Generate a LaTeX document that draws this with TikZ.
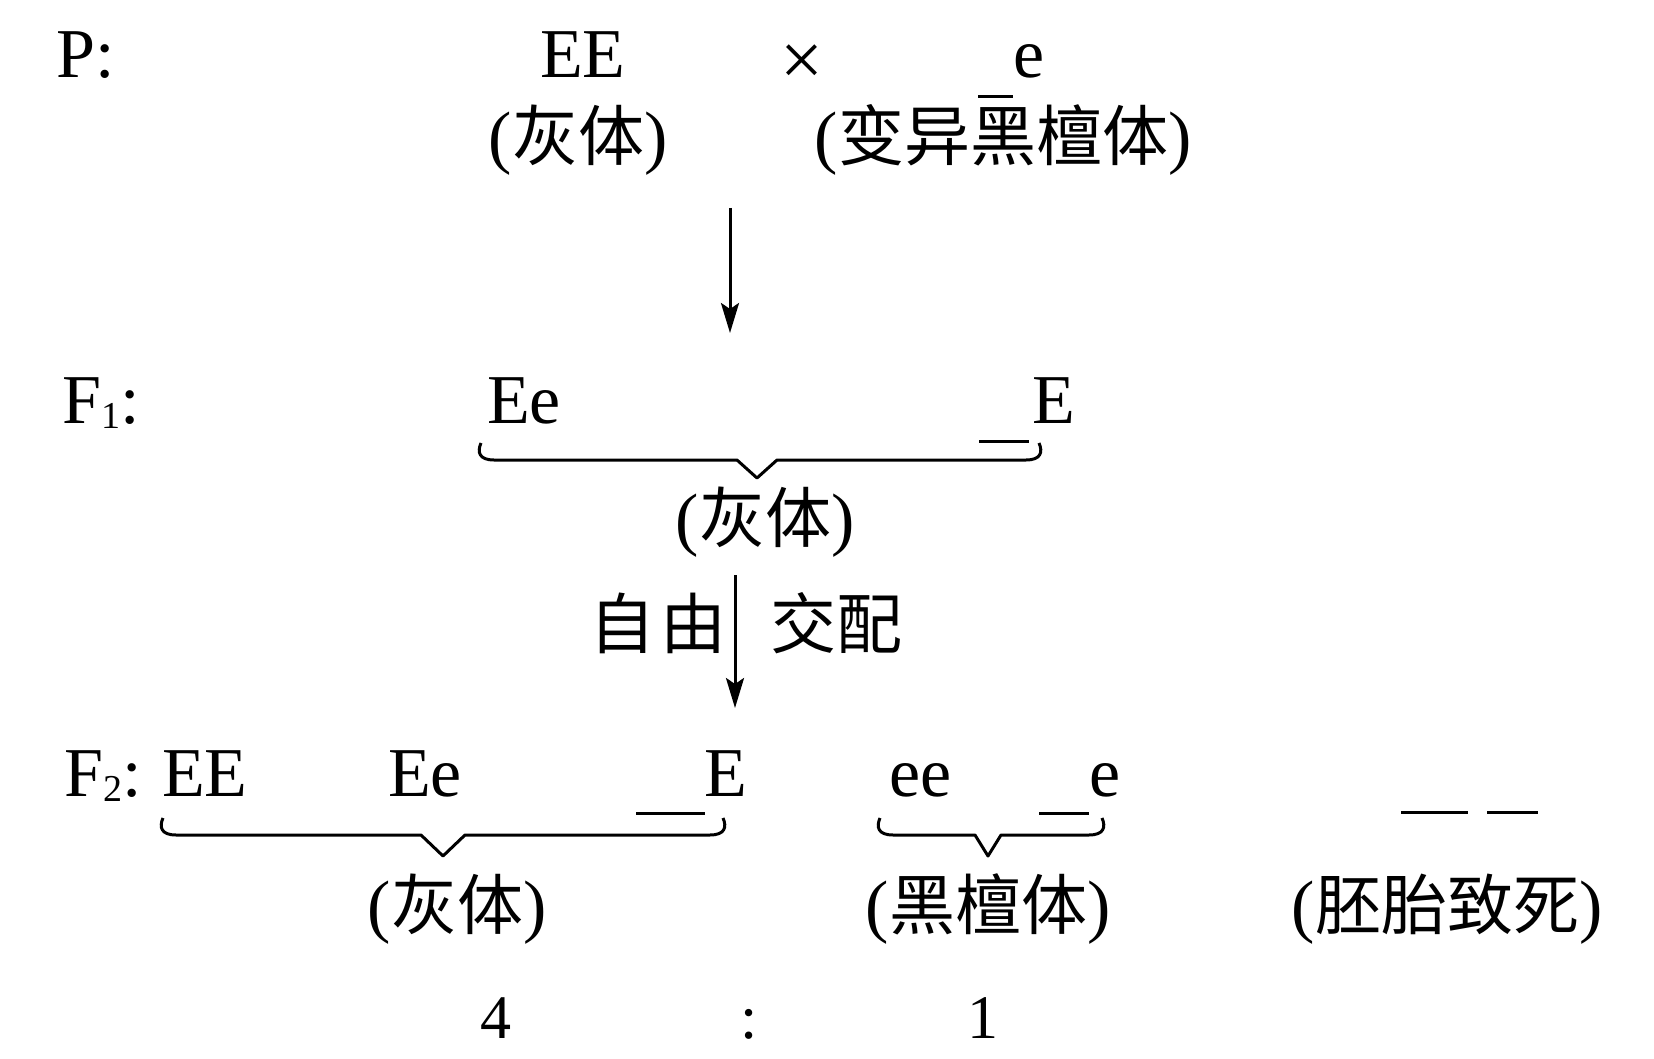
\documentclass[tikz,border=0pt]{standalone}
\usepackage{fontspec}
\setmainfont{Liberation Serif}
\newfontfamily\cjk{Noto Sans CJK SC}
\usetikzlibrary{arrows.meta}
\newcommand\latf{\fontsize{70}{80}\selectfont}
\newcommand\cjkf{\cjk\fontsize{66}{72}\selectfont}
\newcommand\cjpar[1]{{\latf(}{\cjkf #1}{\latf)}}
\newcommand\fsub[1]{\raisebox{-5pt}{\fontsize{38}{40}\selectfont #1}}
\begin{document}
\begin{tikzpicture}[x=1pt,y=-1pt,
  lat/.style={inner sep=0pt, anchor=base west, font=\latf},
  latc/.style={inner sep=0pt, anchor=base, font=\latf},
  cjl/.style={inner sep=0pt, anchor=center},
  brc/.style={line width=3pt, line join=round},
  uline/.style={line width=3pt},
  arr/.style={line width=3pt, -{Stealth[length=30pt,width=18pt,inset=6pt]}}]
\useasboundingbox (0,0) rectangle (1654,1059);
% P row
\node[lat] (P) at (56,78) {P:};
\node[lat] (pEE) at (540,78) {EE};
\node[latc, font=\fontsize{76}{80}\selectfont] (cross) at (802,86) {×};
\node[lat] (pe) at (1013,78) {e};
\draw[uline] (978,97) -- (1013,97);
\node[cjl] (pgrey) at (578,140) {\cjpar{灰体}};
\node[cjl] (pblack) at (1003,140) {\cjpar{变异黑檀体}};
% arrow 1
\coordinate (a1s) at (730,208);
\coordinate (a1e) at (730,333);
\draw[arr] (a1s) -- (a1e);
% F1 row
\node[lat] (F1) at (62,423) {F\fsub{1}:};
\node[lat] (f1Ee) at (487,423) {Ee};
\node[lat] (f1E) at (1032,423) {E};
\draw[uline] (979,441) -- (1029,441);
\draw[brc] (481,443) .. controls (477,452) and (479,460) .. (494,460) -- (737,460) -- (757,478) -- (777,460) -- (1026,460) .. controls (1041,460) and (1043,452) .. (1039,443);
\node[cjl] (f1grey) at (765,522) {\cjpar{灰体}};
% arrow 2
\coordinate (a2s) at (735,575);
\coordinate (a2e) at (735,708);
\draw[arr] (a2s) -- (a2e);
\node[cjl] (free) at (658,623) {\cjkf 自\hspace{6pt}由};
\node[cjl] (mate) at (836,623) {\cjkf 交配};
% F2 row
\node[lat] (F2) at (64,796) {F\fsub{2}:};
\node[lat] (f2EE) at (162,796) {EE};
\node[lat] (f2Ee) at (388,796) {Ee};
\node[lat] (f2E) at (704,796) {E};
\draw[uline] (636,813) -- (705,813);
\node[lat] (f2ee) at (889,796) {ee};
\node[lat] (f2e) at (1089,796) {e};
\draw[uline] (1039,813) -- (1089,813);
\draw[uline] (1401,812) -- (1468,812);
\draw[uline] (1487,812) -- (1538,812);
\draw[brc] (163,818) .. controls (159,827) and (161,835) .. (176,835) -- (421,835) -- (443,856) -- (465,835) -- (710,835) .. controls (725,835) and (727,827) .. (723,818);
\draw[brc] (880,818) .. controls (876,827) and (878,835) .. (893,835) -- (975,835) -- (988,856) -- (1001,835) -- (1089,835) .. controls (1104,835) and (1106,827) .. (1102,818);
\node[cjl] (f2grey) at (457,909) {\cjpar{灰体}};
\node[cjl] (f2black) at (988,909) {\cjpar{黑檀体}};
\node[cjl] (f2dead) at (1447,909) {\cjpar{胚胎致死}};
% ratio
\node[inner sep=0pt, anchor=base, font=\fontsize{62}{70}\selectfont] (r4) at (496,1038) {4};
\node[inner sep=0pt, anchor=base, font=\fontsize{62}{70}\selectfont] (rc) at (749,1038) {:};
\node[inner sep=0pt, anchor=base, font=\fontsize{62}{70}\selectfont] (r1) at (983,1038) {1};
\end{tikzpicture}
\end{document}
